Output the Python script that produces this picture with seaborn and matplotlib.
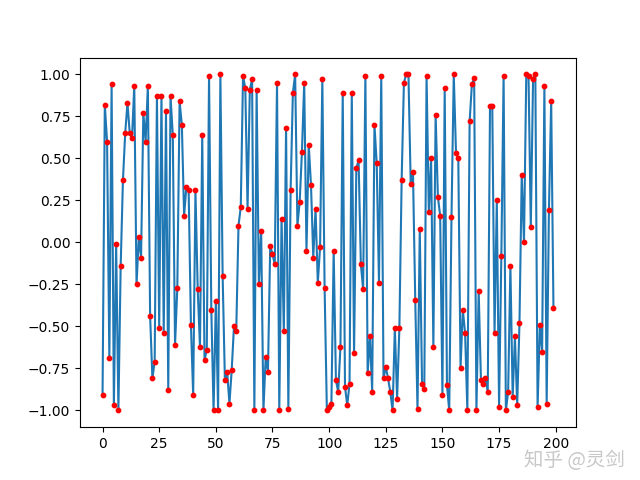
import numpy as np
import pandas as pd
import matplotlib
matplotlib.use("Agg")
import matplotlib.pyplot as plt
import seaborn as sns

x_vals = list(range(200))
y_vals = [
    -0.91, 0.82, 0.60, -0.69, 0.94, -0.97, -0.01, -1.00, -0.14, 0.37,
    0.65, 0.83, 0.65, 0.62, 0.93, -0.25, 0.03, -0.09, 0.77, 0.60,
    0.93, -0.44, -0.81, -0.71, 0.87, -0.51, 0.87, -0.54, 0.78, -0.88,
    0.87, 0.64, -0.61, -0.27, 0.84, 0.70, 0.16, 0.33, 0.31, -0.49,
    -0.91, 0.31, -0.28, -0.62, 0.64, -0.70, -0.64, 0.99, -0.40, -1.00,
    -0.35, -1.00, 1.00, -0.20, -0.82, -0.77, -0.96, -0.76, -0.50, -0.53,
    0.10, 0.21, 0.99, 0.92, 0.20, 0.91, 0.97, -1.00, 0.91, -0.25,
    0.07, -1.00, -0.68, -0.77, -0.02, -0.07, -0.13, 0.95, -1.00, 0.14,
    -0.53, 0.68, -0.99, 0.31, 0.89, 1.00, 0.10, 0.24, 0.54, 0.95,
    -0.05, 0.58, 0.34, -0.09, 0.20, -0.24, -0.03, 0.97, -0.27, -1.00,
    -0.98, -0.96, -0.05, -0.82, -0.89, -0.62, 0.89, -0.86, -0.97, -0.84,
    0.89, -0.66, 0.44, 0.49, -0.13, -0.28, 0.99, -0.78, -0.56, -0.89,
    0.70, 0.47, -0.24, 0.99, -0.81, -0.74, -0.81, -0.89, -1.00, -0.51,
    -0.93, -0.51, 0.37, 0.95, 1.00, 1.00, 0.35, 0.42, -0.34, -0.99,
    0.08, -0.84, -0.87, 0.99, 0.18, 0.50, -0.62, 0.76, 0.27, 0.16,
    -0.91, 0.92, -0.85, -1.00, 0.15, 1.00, 0.53, 0.50, -0.75, -0.40,
    -0.54, -1.00, 0.72, 0.94, 0.98, -1.00, -0.29, -0.82, -0.84, -0.81,
    -0.89, 0.81, 0.81, -0.54, 0.25, -0.98, -0.08, 0.99, -1.00, -0.89,
    -0.14, -0.92, -0.56, -0.97, -0.48, 0.40, 0.00, 1.00, 0.99, 0.09,
    0.97, 1.00, -0.98, -0.49, -0.65, 0.93, -0.96, 0.19, 0.84, -0.39,
]

df = pd.DataFrame({"x": x_vals, "y": y_vals})

fig, ax = plt.subplots(figsize=(6.4, 4.8), dpi=100)
sns.lineplot(data=df, x="x", y="y", ax=ax, color="#1f77b4", linewidth=1.5)
sns.scatterplot(data=df, x="x", y="y", ax=ax, color="red", s=10,
                edgecolor="red", linewidth=1.0, zorder=3)
ax.set_xlabel("")
ax.set_ylabel("")
ax.set_xticks([0, 25, 50, 75, 100, 125, 150, 175, 200])

fig.text(0.818, 0.03, "知乎 @灵剑", fontsize=14, color="#c8c8c8",
         family=["Noto Sans CJK SC", "DejaVu Sans"])

fig.savefig("out.png", dpi=100)
